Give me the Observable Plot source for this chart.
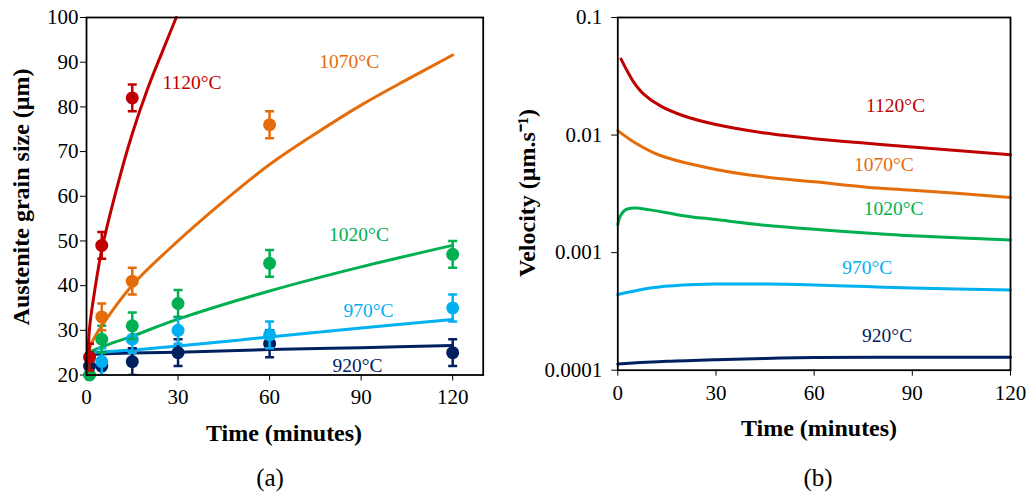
<!DOCTYPE html>
<html>
<head>
<meta charset="utf-8">
<script src="https://cdn.jsdelivr.net/npm/d3@7"></script>
<script src="https://cdn.jsdelivr.net/npm/@observablehq/plot@0.6"></script>
<style>
  html, body { margin: 0; padding: 0; background: #fff; }
  #wrap { position: relative; width: 1029px; height: 495px; overflow: hidden; font-family: "Liberation Serif", "Times New Roman", serif; }
  #wrap svg, #wrap svg text { font-family: "Liberation Serif", "Times New Roman", serif !important; }
  .panel { position: absolute; top: 0; }
  .t { position: absolute; white-space: nowrap; line-height: 1; transform: translate(-50%, -50%); color: #000; }
  .b { font-weight: bold; font-size: 24px; }
  .rot { transform: translate(-50%, -50%) rotate(-90deg); }
  .cap { font-size: 25px; }
</style>
</head>
<body>
<div id="wrap">
  <div id="pa" class="panel" style="left:0"></div>
  <div id="pb" class="panel" style="left:515px"></div>
  <div class="t b rot" style="left:21px; top:197px">Austenite grain size (μm)</div>
  <div class="t b" style="left:284px; top:433px">Time (minutes)</div>
  <div class="t cap" style="left:270px; top:477px">(a)</div>
  <div class="t b rot" style="left:527px; top:193px">Velocity (μm.s⁻¹)</div>
  <div class="t b" style="left:819px; top:428px">Time (minutes)</div>
  <div class="t cap" style="left:818px; top:477px">(b)</div>
</div>
<script>
// ---- series ----
const seriesNames = ["920°C", "970°C", "1020°C", "1070°C", "1120°C"];
const seriesColors = ["#002060", "#00B0F0", "#00B050", "#E46C0A", "#C00000"];

// ---- panel (a): measured grain size [time (min), size (µm)] ----
const meas920  = [[1, 22], [5, 22], [15, 23], [30, 25], [60, 27], [120, 25]];
const meas970  = [[5, 23], [15, 28], [30, 30], [60, 29], [120, 35]];
const meas1020 = [[1, 20], [5, 28], [15, 31], [30, 36], [60, 45], [120, 47]];
const meas1070 = [[5, 33], [15, 41], [60, 76]];
const meas1120 = [[1, 24], [5, 49], [15, 82]];
const measError = 3; // ± µm

// ---- panel (a): model curves [time, size] ----
const fit920  = [[0.5, 24.6], [15, 24.9], [30, 25.1], [60, 25.7], [90, 26.1], [120, 26.6]];
const fit970  = [[0.5, 25], [15, 25.6], [30, 26.5], [60, 28.5], [90, 30.5], [120, 32.4]];
const fit1020 = [[0.5, 25], [5, 26.3], [15, 28.7], [30, 32.5], [60, 38.8], [90, 44.2], [120, 49]];
const fit1070 = [[0.5, 25], [2, 27.6], [5, 31], [15, 40.1], [30, 50], [45, 58.9], [60, 67.1], [75, 74], [90, 80.4], [105, 86.1], [120, 91.6]];
const fit1120 = [[0.5, 25], [1, 30.5], [2, 35.8], [5, 48], [10, 62], [15, 74], [20, 84], [25, 92.6], [29.4, 100]];

// ---- panel (b): velocity curves [time, velocity (µm/s)] ----
const vel920  = [[0, 0.000113], [15, 0.000119], [30, 0.000123], [45, 0.000126], [60, 0.000128], [90, 0.000129], [120, 0.000129]];
const vel970  = [[0, 0.00044], [10, 0.0005], [20, 0.00053], [30, 0.00054], [45, 0.00054], [60, 0.00053], [76, 0.000514], [90, 0.0005], [120, 0.00048]];
const vel1020 = [[0, 0.00173], [0.8, 0.00206], [2.3, 0.00231], [4.9, 0.0024], [10, 0.00231], [20, 0.00206], [30, 0.00191], [45, 0.00171], [60, 0.00158], [76, 0.00147], [90, 0.00139], [120, 0.00128]];
const vel1070 = [[0, 0.0109], [5, 0.0087], [13, 0.0067], [30, 0.0051], [45, 0.0044], [60, 0.0040], [76, 0.0036], [90, 0.0034], [120, 0.00295]];
const vel1120 = [[1, 0.0443], [2.85, 0.0352], [4.9, 0.0281], [7.9, 0.0223], [13, 0.0177], [20, 0.0146], [30, 0.0123], [45, 0.0104], [60, 0.0093], [76, 0.0085], [90, 0.0079], [120, 0.0068]];

// ---- ticks ----
const timeTicks = [0, 30, 60, 90, 120];
const sizeTicks = [20, 30, 40, 50, 60, 70, 80, 90, 100];
const velTicks = [0.0001, 0.001, 0.01, 0.1];
const velTickLabels = ["0.0001", "0.001", "0.01", "0.1"];

// ---- in-plot labels (data coordinates) ----
const labelTimeA = [88.8, 92.4, 89.3, 86.1, 34.6];
const labelSizeA = [22.0, 34.3, 51.3, 90.1, 85.4];
const labelTimeB = [82.3, 76.2, 84.3, 81.3, 84.9];
const labelVelB  = [0.000197, 0.00075, 0.00235, 0.00556, 0.01775];

// ---- build tables ----
const measAll = [meas920, meas970, meas1020, meas1070, meas1120];
const fitAll = [fit920, fit970, fit1020, fit1070, fit1120];
const velAll = [vel920, vel970, vel1020, vel1070, vel1120];

const measRows = measAll.flatMap((arr, i) => arr.map(([t, d]) => ({t, d, lo: d - measError, hi: d + measError, s: seriesNames[i]})));
const fitRows = fitAll.flatMap((arr, i) => arr.map(([t, d]) => ({t, d, s: seriesNames[i]})));
const velRows = velAll.flatMap((arr, i) => arr.map(([t, v]) => ({t, v, s: seriesNames[i]})));
const labA = seriesNames.map((s, i) => ({s, t: labelTimeA[i], d: labelSizeA[i]}));
const labB = seriesNames.map((s, i) => ({s, t: labelTimeB[i], v: labelVelB[i]}));

const colorScale = {domain: seriesNames, range: seriesColors};
const capSymbol = {draw(ctx) { ctx.moveTo(-4.5, 0); ctx.lineTo(4.5, 0); }};
const font = "'Liberation Serif', 'Times New Roman', serif";
const baseStyle = {fontFamily: font, fontSize: "21px", color: "#000", background: "transparent", overflow: "visible"};

const plotA = Plot.plot({
  width: 514, height: 495,
  marginLeft: 86, marginRight: 31.3, marginTop: 17, marginBottom: 120.5,
  style: baseStyle,
  color: colorScale,
  x: {domain: [0, 130]},
  y: {domain: [20, 100]},
  marks: [
    Plot.axisX({ticks: timeTicks, tickSize: 6, tickPadding: 8.5, label: null, fontSize: 21}),
    Plot.axisY({ticks: sizeTicks, tickSize: 6, tickPadding: 2, label: null, fontSize: 21}),
    Plot.line(fitRows, {x: "t", y: "d", z: "s", stroke: "s", strokeWidth: 3, curve: "catmull-rom"}),
    ...seriesNames.map(name => [
      Plot.ruleX(measRows.filter(r => r.s === name), {x: "t", y1: "lo", y2: "hi", stroke: "s", strokeWidth: 2.5, clip: true}),
      Plot.dot(measRows.filter(r => r.s === name), {x: "t", y: "hi", stroke: "s", symbol: capSymbol, strokeWidth: 2.5, clip: true}),
      Plot.dot(measRows.filter(r => r.s === name), {x: "t", y: "lo", stroke: "s", symbol: capSymbol, strokeWidth: 2.5, clip: true}),
      Plot.dot(measRows.filter(r => r.s === name), {x: "t", y: "d", fill: "s", r: 6.5})
    ]).flat(),
    Plot.text(labA, {x: "t", y: "d", text: "s", fill: "s", fontSize: 19.5}),
    Plot.frame({stroke: "#000", strokeWidth: 1.8})
  ]
});

const plotB = Plot.plot({
  width: 514, height: 495,
  marginLeft: 102.3, marginRight: 19, marginTop: 17, marginBottom: 125.3,
  style: baseStyle,
  color: colorScale,
  x: {domain: [0, 120]},
  y: {type: "log", domain: [0.0001, 0.1]},
  marks: [
    Plot.axisX({ticks: timeTicks, tickSize: 6, tickPadding: 8.5, label: null, fontSize: 21}),
    Plot.axisY({ticks: velTicks, tickFormat: (d) => velTickLabels[velTicks.indexOf(d)], tickSize: 6, tickPadding: 9.5, label: null, fontSize: 21}),
    Plot.line(velRows, {x: "t", y: "v", z: "s", stroke: "s", strokeWidth: 3, curve: "catmull-rom"}),
    Plot.text(labB, {x: "t", y: "v", text: "s", fill: "s", fontSize: 19.5}),
    Plot.frame({stroke: "#000", strokeWidth: 1.8})
  ]
});

document.getElementById("pa").appendChild(plotA);
document.getElementById("pb").appendChild(plotB);
</script>
</body>
</html>
